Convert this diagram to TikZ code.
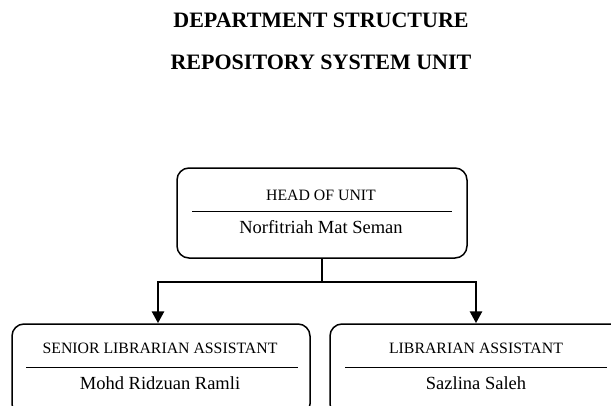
\documentclass[tikz,border=0pt]{standalone}
\usepackage{fontspec}
\setmainfont{Liberation Serif}
\usetikzlibrary{arrows.meta}
\begin{document}
\begin{tikzpicture}[x=1pt,y=-1pt,
  card/.style={draw, line width=1.5pt, rounded corners=12pt, inner sep=0pt},
  role/.style={font=\fontsize{15.8}{18}\selectfont, inner sep=0pt},
  person/.style={font=\fontsize{18.5}{21}\selectfont, inner sep=0pt},
  heading/.style={font=\fontsize{22}{26}\selectfont\bfseries, inner sep=0pt},
  rule/.style={line width=0.9pt},
  trunk/.style={line width=2.8pt},
  link/.style={line width=2.8pt, -{Triangle[length=12pt,width=12pt]}}]
\useasboundingbox (0,0) rectangle (611,405);
\begin{scope}
\clip (0,0) rectangle (611,405);

% titles
\node[heading] (t1) at (321,20) {DEPARTMENT STRUCTURE};
\node[heading] (t2) at (321,62) {REPOSITORY SYSTEM UNIT};

% head of unit card
\node[card, minimum width=290pt, minimum height=90pt] (head) at (322,213) {};
\node[role] (headrole) at (321,195) {HEAD OF UNIT};
\draw[rule] ([xshift=16pt]head.west |- 0,211) -- ([xshift=-16pt]head.east |- 0,211);
\node[person] (headname) at (321,227) {Norfitriah Mat Seman};

% senior librarian assistant card
\node[card, minimum width=298pt, minimum height=92pt] (senior) at (161,370) {};
\node[role] (seniorrole) at (160,348) {SENIOR LIBRARIAN ASSISTANT};
\draw[rule] ([xshift=15pt]senior.west |- 0,367) -- ([xshift=-13pt]senior.east |- 0,367);
\node[person] (seniorname) at (160,383) {Mohd Ridzuan Ramli};

% librarian assistant card
\node[card, minimum width=292pt, minimum height=92pt] (assist) at (476,370) {};
\node[role] (assistrole) at (476,348) {LIBRARIAN ASSISTANT};
\draw[rule] ([xshift=16pt]assist.west |- 0,367) -- ([xshift=-16pt]assist.east |- 0,367);
\node[person] (assistname) at (476,383) {Sazlina Saleh};

% connectors
\coordinate (fork) at (322,282);
\draw[trunk] (head.south) -- (fork);
\draw[link] ([xshift=1.4pt]fork) -| ([xshift=-3pt]senior.north);
\draw[link] ([xshift=-1.4pt]fork) -| (assist.north);
\end{scope}
\end{tikzpicture}
\end{document}
